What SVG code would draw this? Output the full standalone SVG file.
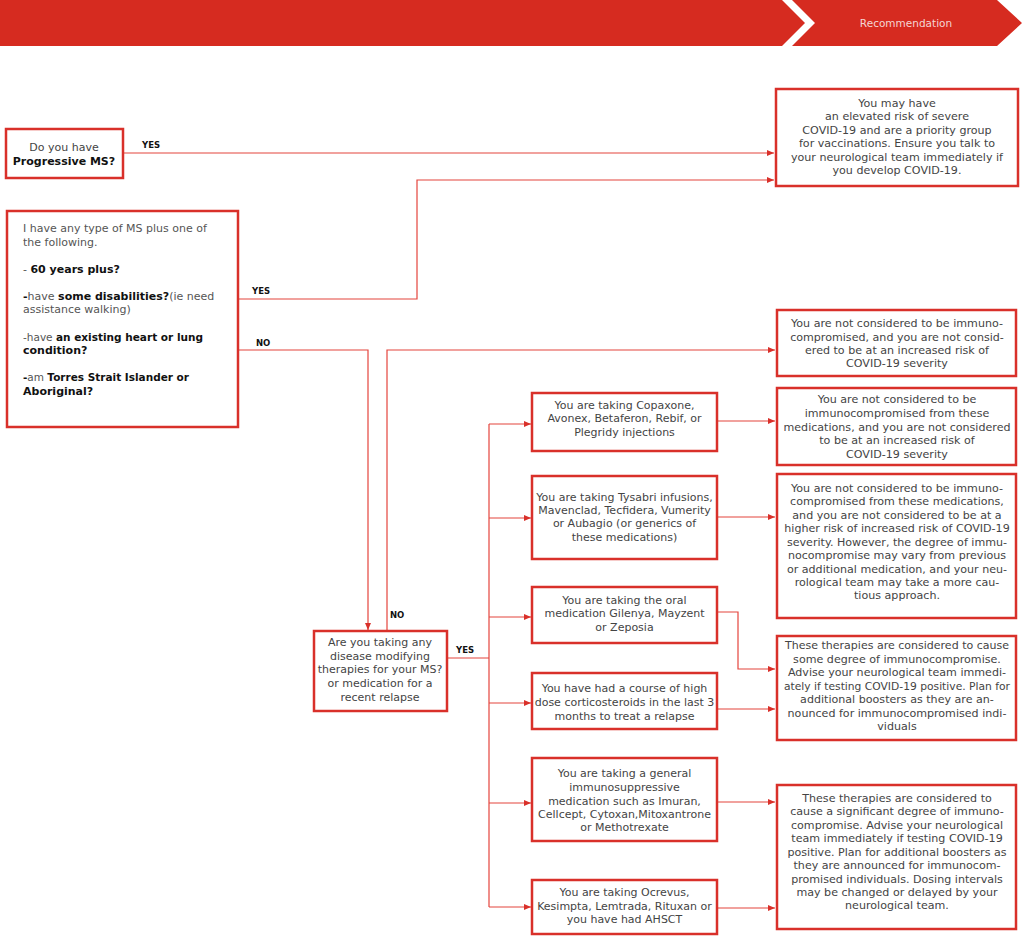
<svg xmlns="http://www.w3.org/2000/svg" width="1024" height="941" viewBox="0 0 1024 941">
<style>
.box{fill:#fff;stroke:#D9302A;stroke-width:2.5}
.ln{fill:none;stroke:#E4443C;stroke-width:1.2}
.t{font-family:"DejaVu Sans","Liberation Sans",sans-serif;font-size:11px;fill:#444;text-anchor:middle}
.tr{font-size:11.1px}
.tl{font-family:"DejaVu Sans","Liberation Sans",sans-serif;font-size:11px;fill:#555}
.b{font-weight:bold;fill:#111}
.lab{font-family:"DejaVu Sans","Liberation Sans",sans-serif;font-size:8.5px;font-weight:bold;fill:#111}
</style>
<defs>
<marker id="ar" markerUnits="userSpaceOnUse" markerWidth="8" markerHeight="7" refX="7" refY="3" orient="auto">
<path d="M0,0 L7,3 L0,6 Z" fill="#D9302A"/>
</marker>
</defs>
<rect width="1024" height="941" fill="#fff"/>
<g id="banner">
<path d="M0,0 H782 L805,23 L782,46 H0 Z" fill="#D62B20"/>
<path d="M792,0 H997 L1022,23 L997,46 H792 L815,23 Z" fill="#D62B20"/>
<text x="906" y="27" style="font-family:'DejaVu Sans','Liberation Sans',sans-serif;font-size:10.5px;fill:#f4d6d4;text-anchor:middle">Recommendation</text>
</g>
<g id="connectors">
<path class="ln" d="M123,153 H774" marker-end="url(#ar)"/>
<path class="ln" d="M238,299 H417 V180 H774" marker-end="url(#ar)"/>
<path class="ln" d="M238,350 H368 V630" marker-end="url(#ar)"/>
<path class="ln" d="M387,631 V350 H775" marker-end="url(#ar)"/>
<path class="ln" d="M447,658 H489"/>
<path class="ln" d="M489,424 V907"/>
<path class="ln" d="M489,424 H531" marker-end="url(#ar)"/>
<path class="ln" d="M489,518 H531" marker-end="url(#ar)"/>
<path class="ln" d="M489,617 H531" marker-end="url(#ar)"/>
<path class="ln" d="M489,703 H531" marker-end="url(#ar)"/>
<path class="ln" d="M489,803 H531" marker-end="url(#ar)"/>
<path class="ln" d="M489,907 H531" marker-end="url(#ar)"/>
<path class="ln" d="M717,421 H775" marker-end="url(#ar)"/>
<path class="ln" d="M717,517 H775" marker-end="url(#ar)"/>
<path class="ln" d="M717,612 H738 V669 H775" marker-end="url(#ar)"/>
<path class="ln" d="M717,709 H775" marker-end="url(#ar)"/>
<path class="ln" d="M717,802 H775" marker-end="url(#ar)"/>
<path class="ln" d="M717,908 H775" marker-end="url(#ar)"/>
<text class="lab" x="142" y="148">YES</text>
<text class="lab" x="252" y="294">YES</text>
<text class="lab" x="256" y="346">NO</text>
<text class="lab" x="390" y="618">NO</text>
<text class="lab" x="456" y="653">YES</text>
</g>
<g id="q-progressive">
<rect class="box" x="6" y="129" width="117" height="49"/>
<text class="t" x="64" y="151">Do you have</text>
<text class="t b" x="64" y="165">Progressive MS?</text>
</g>
<g id="q-risk">
<rect class="box" x="7" y="211" width="231" height="216"/>
<text class="tl" x="23" y="232">I have any type of MS plus one of</text>
<text class="tl" x="23" y="246">the following.</text>
<text class="tl" x="23" y="273">- <tspan class="b">60 years plus?</tspan></text>
<text class="tl" x="23" y="300"><tspan class="b">-</tspan>have <tspan class="b">some disabilities?</tspan>(ie need</text>
<text class="tl" x="23" y="313">assistance walking)</text>
<text class="tl" x="23" y="341" textLength="180" lengthAdjust="spacingAndGlyphs">-have <tspan class="b">an existing heart or lung</tspan></text>
<text class="tl b" x="23" y="354">condition?</text>
<text class="tl" x="23" y="381" textLength="166" lengthAdjust="spacingAndGlyphs"><tspan class="b">-</tspan>am <tspan class="b">Torres Strait Islander or</tspan></text>
<text class="tl b" x="23" y="395">Aboriginal?</text>
</g>
<g id="q-dmt">
<rect class="box" x="314" y="631" width="133" height="80"/>
<text class="t" x="380" y="646">Are you taking any</text>
<text class="t" x="380" y="660">disease modifying</text>
<text class="t" x="380" y="673">therapies for your MS?</text>
<text class="t" x="380" y="687">or medication for a</text>
<text class="t" x="380" y="701">recent relapse</text>
</g>
<g id="m-copaxone">
<rect class="box" x="532" y="393" width="185" height="58"/>
<text class="t" x="624.5" y="409">You are taking Copaxone,</text>
<text class="t" x="624.5" y="422">Avonex, Betaferon,  Rebif, or</text>
<text class="t" x="624.5" y="436">Plegridy injections</text>
</g>
<g id="m-tysabri">
<rect class="box" x="532" y="476" width="185" height="83"/>
<text class="t" x="624.5" y="501">You are taking Tysabri infusions,</text>
<text class="t" x="624.5" y="514">Mavenclad, Tecfidera, Vumerity</text>
<text class="t" x="624.5" y="527">or Aubagio (or generics of</text>
<text class="t" x="624.5" y="541">these medications)</text>
</g>
<g id="m-gilenya">
<rect class="box" x="532" y="587" width="185" height="56"/>
<text class="t" x="624.5" y="604">You are taking the oral</text>
<text class="t" x="624.5" y="617">medication Gilenya, Mayzent</text>
<text class="t" x="624.5" y="631">or Zeposia</text>
</g>
<g id="m-steroids">
<rect class="box" x="532" y="673" width="185" height="56"/>
<text class="t" x="624.5" y="692">You have had a course of high</text>
<text class="t" x="624.5" y="706">dose corticosteroids in the last 3</text>
<text class="t" x="624.5" y="720">months to treat a relapse</text>
</g>
<g id="m-immuno">
<rect class="box" x="532" y="758" width="185" height="83"/>
<text class="t" x="624.5" y="777">You are taking a general</text>
<text class="t" x="624.5" y="791">immunosuppressive</text>
<text class="t" x="624.5" y="805">medication such as Imuran,</text>
<text class="t" x="624.5" y="818">Cellcept, Cytoxan,Mitoxantrone</text>
<text class="t" x="624.5" y="831">or Methotrexate</text>
</g>
<g id="m-ocrevus">
<rect class="box" x="532" y="880" width="185" height="54"/>
<text class="t" x="624.5" y="896">You are taking Ocrevus,</text>
<text class="t" x="624.5" y="910">Kesimpta, Lemtrada, Rituxan or</text>
<text class="t" x="624.5" y="923">you have had AHSCT</text>
</g>
<g id="r-priority">
<rect class="box" x="776" y="89" width="242" height="97"/>
<text class="t tr" x="897" y="107">You may have</text>
<text class="t tr" x="897" y="120">an elevated risk of severe</text>
<text class="t tr" x="897" y="134">COVID-19 and are a priority group</text>
<text class="t tr" x="897" y="147">for vaccinations. Ensure you talk to</text>
<text class="t tr" x="897" y="161">your neurological team immediately if</text>
<text class="t tr" x="897" y="174">you develop COVID-19.</text>
</g>
<g id="r-not-immuno">
<rect class="box" x="777" y="310" width="239" height="66"/>
<text class="t tr" x="897" y="327">You are not considered to be immuno-</text>
<text class="t tr" x="897" y="341">compromised, and you are not consid-</text>
<text class="t tr" x="897" y="354">ered to be at an increased risk of</text>
<text class="t tr" x="897" y="367">COVID-19 severity</text>
</g>
<g id="r-not-immuno-meds">
<rect class="box" x="777" y="388" width="239" height="77"/>
<text class="t tr" x="897" y="403">You are not considered to be</text>
<text class="t tr" x="897" y="417">immunocompromised from these</text>
<text class="t tr" x="897" y="431">medications, and you are not considered</text>
<text class="t tr" x="897" y="444">to be at an increased risk of</text>
<text class="t tr" x="897" y="458">COVID-19 severity</text>
</g>
<g id="r-not-immuno-higher">
<rect class="box" x="777" y="474" width="239" height="144"/>
<text class="t tr" x="897" y="492">You are not considered to be immuno-</text>
<text class="t tr" x="897" y="505">compromised from these medications,</text>
<text class="t tr" x="897" y="519">and you are not considered to be at a</text>
<text class="t tr" x="897" y="532">higher risk of increased risk of COVID-19</text>
<text class="t tr" x="897" y="546">severity. However, the degree of immu-</text>
<text class="t tr" x="897" y="559">nocompromise may vary from previous</text>
<text class="t tr" x="897" y="573">or additional medication, and your neu-</text>
<text class="t tr" x="897" y="586">rological team may take a more cau-</text>
<text class="t tr" x="897" y="599">tious approach.</text>
</g>
<g id="r-some-degree">
<rect class="box" x="777" y="636" width="239" height="104"/>
<text class="t tr" x="897" y="649" textLength="224" lengthAdjust="spacingAndGlyphs">These therapies are considered to cause</text>
<text class="t tr" x="897" y="662.5">some degree of immunocompromise.</text>
<text class="t tr" x="897" y="676">Advise your neurological team immedi-</text>
<text class="t tr" x="897" y="689.5" textLength="226" lengthAdjust="spacingAndGlyphs">ately if testing COVID-19 positive. Plan for</text>
<text class="t tr" x="897" y="703">additional boosters as they are an-</text>
<text class="t tr" x="897" y="716.5">nounced for immunocompromised indi-</text>
<text class="t tr" x="897" y="730">viduals</text>
</g>
<g id="r-significant">
<rect class="box" x="777" y="785" width="239" height="144"/>
<text class="t tr" x="897" y="802">These therapies are considered to</text>
<text class="t tr" x="897" y="815">cause a significant degree of immuno-</text>
<text class="t tr" x="897" y="829">compromise. Advise your neurological</text>
<text class="t tr" x="897" y="842">team immediately if testing COVID-19</text>
<text class="t tr" x="897" y="856">positive. Plan for additional boosters as</text>
<text class="t tr" x="897" y="869">they are announced for immunocom-</text>
<text class="t tr" x="897" y="883">promised individuals. Dosing intervals</text>
<text class="t tr" x="897" y="896">may be changed or delayed by your</text>
<text class="t tr" x="897" y="909">neurological team.</text>
</g>
</svg>
